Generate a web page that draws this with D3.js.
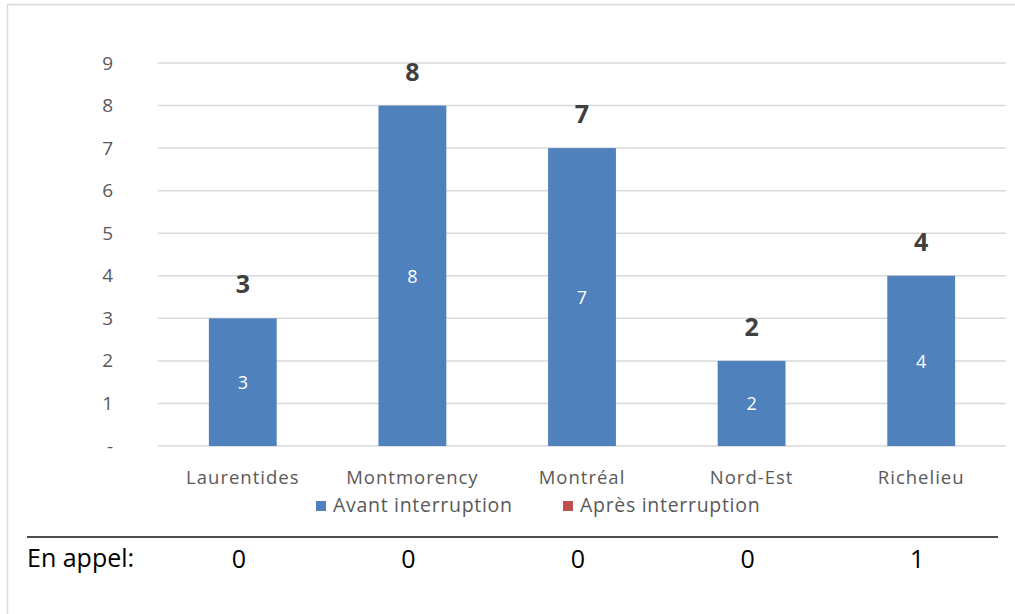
<!DOCTYPE html>
<html>
<head>
<meta charset="utf-8">
<script src="https://cdn.jsdelivr.net/npm/d3@7"></script>
<style>
  body { margin: 0; background: #fff; }
  svg { display: block; }
  text { font-family: "Open Sans", "Noto Sans", sans-serif; }
</style>
</head>
<body>
<svg id="chart"></svg>
<script>
var width = 1015;
var height = 614;

var regions = ["Laurentides", "Montmorency", "Montréal", "Nord-Est", "Richelieu"];
var avant = [3, 8, 7, 2, 4];
var apres = [0, 0, 0, 0, 0];
var enAppel = [0, 0, 0, 0, 1];
var yTicks = [0, 1, 2, 3, 4, 5, 6, 7, 8, 9];
var seriesNames = ["Avant interruption", "Après interruption"];
var colors = ["#4f81bd", "#c0504d"];

var svg = d3.select("#chart").attr("width", width).attr("height", height);

// outer chart border (runs off the picture on the right and bottom)
svg.append("rect")
    .attr("x", 7.5).attr("y", 4.5)
    .attr("width", width + 20).attr("height", height + 20)
    .attr("fill", "none")
    .attr("stroke", "#d9d9d9")
    .attr("stroke-width", 1.5);

var x = d3.scaleBand().domain(regions).range([158, 1006]).paddingInner(0.6).paddingOuter(0.3);
var y = d3.scaleLinear().domain([0, 9]).range([446, 63]);

// gridlines
svg.append("g").selectAll("line")
    .data(yTicks)
    .enter().append("line")
    .attr("x1", 158).attr("x2", 1006)
    .attr("y1", function(d) { return y(d); })
    .attr("y2", function(d) { return y(d); })
    .attr("stroke", "#d9d9d9")
    .attr("stroke-width", 1.5);

// y axis labels
var yAxis = d3.axisLeft(y).tickValues(yTicks).tickSize(0).tickPadding(0)
    .tickFormat(function(d) { return d === 0 ? "-" : d; });
var yg = svg.append("g").attr("transform", "translate(113,0)").call(yAxis);
yg.select(".domain").remove();
yg.selectAll("text")
    .attr("fill", "#595959")
    .style("font-size", "19px")
    .style("font-family", "'Open Sans', sans-serif");

// stacked bars
var stackData = regions.map(function(r, i) { return { region: r, avant: avant[i], apres: apres[i] }; });
var stack = d3.stack().keys(["avant", "apres"])(stackData);

var layers = svg.append("g").selectAll("g")
    .data(stack)
    .enter().append("g")
    .attr("fill", function(d, i) { return colors[i]; });

layers.selectAll("rect")
    .data(function(d) { return d; })
    .enter().append("rect")
    .attr("x", function(d) { return x(d.data.region); })
    .attr("width", x.bandwidth())
    .attr("y", function(d) { return y(d[1]); })
    .attr("height", function(d) { return y(d[0]) - y(d[1]); });

// inside labels (avant series)
svg.append("g").selectAll("text")
    .data(stack[0])
    .enter().append("text")
    .attr("x", function(d) { return x(d.data.region) + x.bandwidth() / 2; })
    .attr("y", function(d) { return (y(d[0]) + y(d[1])) / 2 + 7; })
    .attr("text-anchor", "middle")
    .attr("fill", "#ffffff")
    .style("font-size", "18px")
    .text(function(d) { return d[1] - d[0]; });

// totals on top
svg.append("g").selectAll("text")
    .data(stackData)
    .enter().append("text")
    .attr("x", function(d) { return x(d.region) + x.bandwidth() / 2; })
    .attr("y", function(d) { return y(d.avant + d.apres) - 25; })
    .attr("text-anchor", "middle")
    .attr("fill", "#404040")
    .style("font-size", "25px")
    .style("font-weight", "bold")
    .text(function(d) { return d.avant + d.apres; });

// category axis labels
var xAxis = d3.axisBottom(x).tickSize(0).tickPadding(0);
var xg = svg.append("g").attr("transform", "translate(0,484)").call(xAxis);
xg.select(".domain").remove();
xg.selectAll("text")
    .attr("dy", 0)
    .attr("fill", "#595959")
    .style("font-size", "18.5px")
    .style("letter-spacing", "1px")
    .style("font-family", "'Open Sans', sans-serif");

// legend
var legendX = [316, 563];
var legend = svg.append("g").selectAll("g")
    .data(seriesNames)
    .enter().append("g")
    .attr("transform", function(d, i) { return "translate(" + legendX[i] + ",501)"; });
legend.append("rect")
    .attr("width", 10).attr("height", 10)
    .attr("fill", function(d, i) { return colors[i]; });
legend.append("text")
    .attr("x", 17).attr("y", 11)
    .attr("fill", "#595959")
    .style("font-size", "19.5px")
    .style("letter-spacing", "0.7px")
    .text(function(d) { return d; });

// separator line
svg.append("line")
    .attr("x1", 27).attr("x2", 998)
    .attr("y1", 537).attr("y2", 537)
    .attr("stroke", "#111")
    .attr("stroke-width", 1.5);

// "En appel" row
svg.append("text")
    .attr("x", 27).attr("y", 567)
    .attr("fill", "#000")
    .style("font-size", "25px")
    .text("En appel:");

svg.append("g").selectAll("text")
    .data(enAppel)
    .enter().append("text")
    .attr("x", function(d, i) { return x(regions[i]) + x.bandwidth() / 2 - 4; })
    .attr("y", 568)
    .attr("text-anchor", "middle")
    .attr("fill", "#000")
    .style("font-size", "25px")
    .text(function(d) { return d; });
</script>
</body>
</html>
